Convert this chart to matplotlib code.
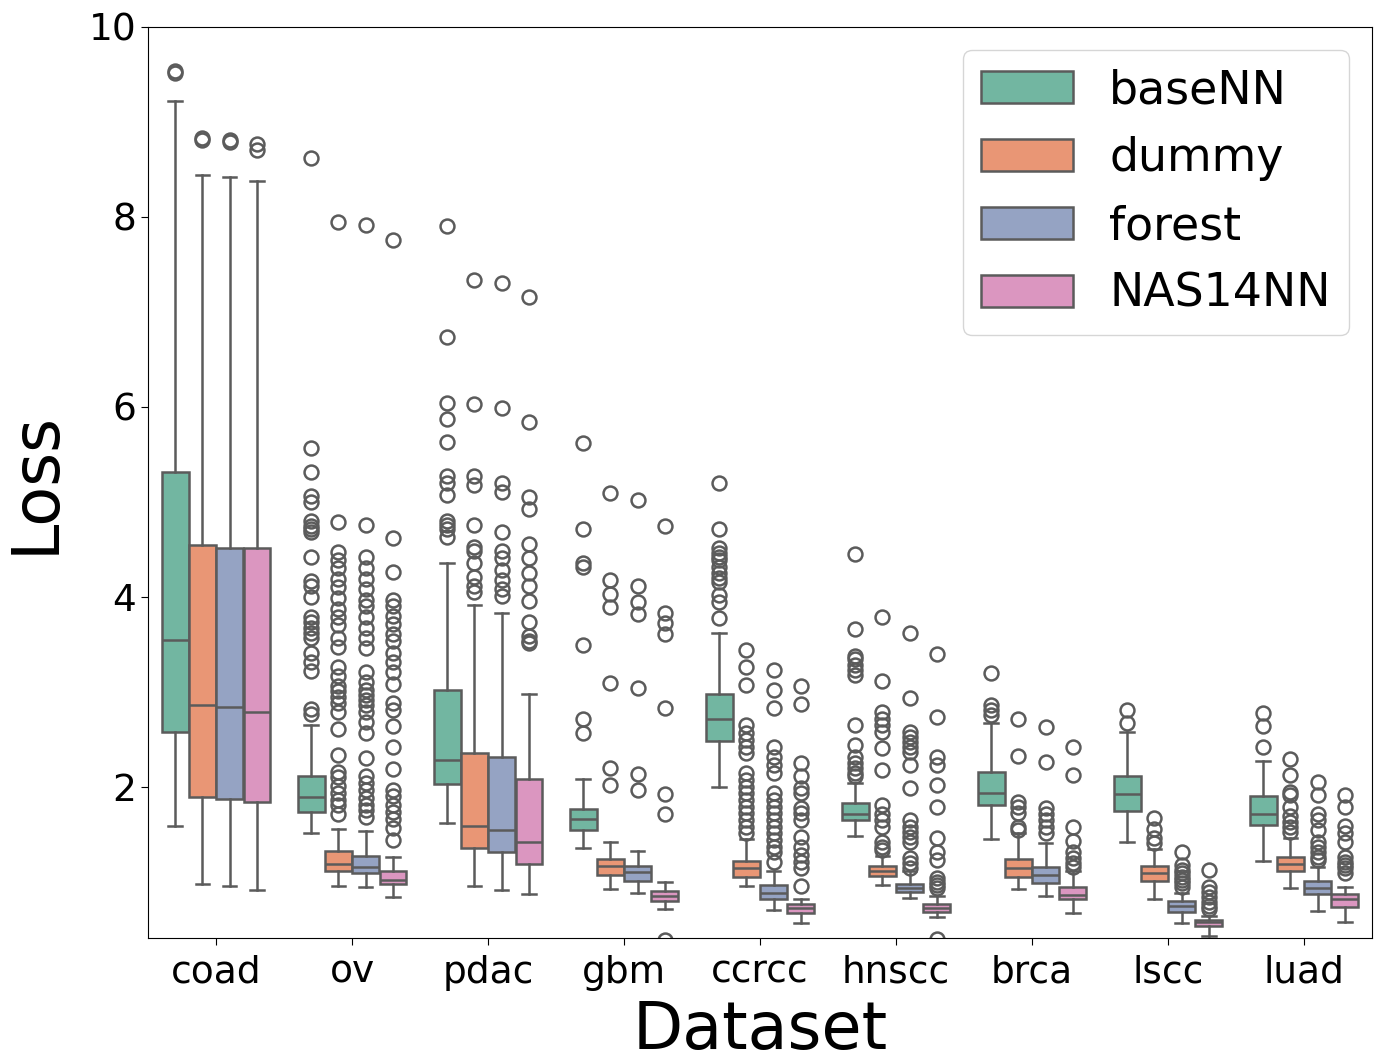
import numpy as np
import matplotlib
matplotlib.use("Agg")
import matplotlib.pyplot as plt
from matplotlib.patches import Patch
import seaborn as sns

# Datasets and models
datasets = ['coad', 'ov', 'pdac', 'gbm', 'ccrcc', 'hnscc', 'brca', 'lscc', 'luad']
models = ['baseNN', 'dummy', 'forest', 'NAS14NN']

# Box statistics per model (rows) and dataset (columns)
whislo = [[1.59, 1.51, 1.62, 1.36, 2.00, 1.48, 1.45, 1.42, 1.22],
          [0.98, 0.96, 0.96, 0.93, 0.96, 0.97, 0.93, 0.82, 0.94],
          [0.96, 0.95, 0.92, 0.88, 0.70, 0.83, 0.85, 0.57, 0.69],
          [0.92, 0.84, 0.87, 0.71, 0.57, 0.63, 0.67, 0.43, 0.58]]
q1 = [[2.58, 1.74, 2.03, 1.55, 2.48, 1.65, 1.81, 1.75, 1.60],
      [1.89, 1.12, 1.36, 1.07, 1.05, 1.06, 1.05, 1.01, 1.11],
      [1.87, 1.09, 1.31, 1.01, 0.82, 0.89, 0.99, 0.68, 0.87],
      [1.84, 0.98, 1.19, 0.80, 0.67, 0.68, 0.82, 0.54, 0.74]]
med = [[3.55, 1.89, 2.28, 1.66, 2.71, 1.72, 1.94, 1.93, 1.72],
       [2.86, 1.19, 1.59, 1.17, 1.15, 1.11, 1.15, 1.09, 1.19],
       [2.84, 1.16, 1.55, 1.10, 0.88, 0.94, 1.07, 0.75, 0.94],
       [2.79, 1.02, 1.42, 0.85, 0.73, 0.73, 0.86, 0.58, 0.82]]
q3 = [[5.31, 2.12, 3.02, 1.77, 2.98, 1.83, 2.16, 2.11, 1.90],
      [4.55, 1.33, 2.36, 1.24, 1.22, 1.17, 1.24, 1.17, 1.26],
      [4.52, 1.27, 2.31, 1.17, 0.97, 0.98, 1.16, 0.80, 1.01],
      [4.52, 1.11, 2.08, 0.90, 0.77, 0.77, 0.95, 0.60, 0.87]]
whishi = [[9.22, 2.65, 4.36, 2.08, 3.62, 2.04, 2.67, 2.58, 2.27],
          [8.44, 1.56, 3.91, 1.42, 1.45, 1.27, 1.51, 1.35, 1.46],
          [8.42, 1.54, 3.83, 1.33, 1.12, 1.11, 1.41, 0.88, 1.16],
          [8.38, 1.26, 2.98, 1.00, 0.82, 0.85, 1.11, 0.64, 0.95]]

# Outliers per model, per dataset
fliers = [
    # baseNN
    [[9.52, 9.54],
     [8.62, 5.57, 5.31, 5.06, 5.0, 4.8, 4.75, 4.72, 4.68, 4.42, 4.17, 4.12, 4.0,
      3.79, 3.74, 3.67, 3.62, 3.57, 3.41, 3.32, 3.22, 2.82, 2.77],
     [7.91, 6.74, 6.04, 5.87, 5.63, 5.27, 5.2, 5.07, 4.8, 4.76, 4.71, 4.63],
     [5.62, 4.72, 4.36, 4.31, 3.49, 2.71, 2.57],
     [5.2, 4.71, 4.52, 4.46, 4.42, 4.39, 4.32, 4.25, 4.2, 4.16, 4.02, 3.95, 3.78],
     [4.45, 3.66, 3.38, 3.35, 3.28, 3.23, 3.18, 2.65, 2.44, 2.32, 2.25, 2.2,
      2.15, 2.11],
     [3.2, 2.86, 2.81, 2.76],
     [2.81, 2.67],
     [2.78, 2.64, 2.42]],
    # dummy
    [[8.83, 8.81],
     [7.95, 4.79, 4.47, 4.39, 4.3, 4.19, 4.1, 3.99, 3.87, 3.79, 3.7, 3.57, 3.47,
      3.26, 3.17, 3.06, 3.01, 2.95, 2.88, 2.79, 2.61, 2.34, 2.16, 2.1, 2.01,
      1.94, 1.86, 1.81, 1.72],
     [7.34, 6.03, 5.27, 5.18, 4.76, 4.53, 4.48, 4.36, 4.21, 4.11, 4.05],
     [5.09, 4.18, 4.03, 3.89, 3.09, 2.2, 2.02],
     [3.44, 3.26, 3.07, 2.65, 2.57, 2.49, 2.42, 2.36, 2.15, 2.07, 2.0, 1.94,
      1.86, 1.79, 1.73, 1.65, 1.58, 1.52],
     [3.79, 3.11, 2.79, 2.72, 2.65, 2.58, 2.41, 2.18, 1.81, 1.72, 1.65, 1.58,
      1.42, 1.37, 1.34],
     [2.72, 2.33, 1.84, 1.79, 1.73, 1.58, 1.55],
     [1.67, 1.56, 1.46, 1.41],
     [2.29, 2.13, 1.95, 1.92, 1.79, 1.69, 1.63, 1.58, 1.53]],
    # forest
    [[8.81, 8.79],
     [7.92, 4.76, 4.42, 4.3, 4.19, 4.08, 3.97, 3.9, 3.79, 3.67, 3.57, 3.46,
      3.21, 3.1, 3.02, 2.97, 2.92, 2.86, 2.79, 2.68, 2.57, 2.3, 2.12, 2.04,
      1.97, 1.88, 1.81, 1.76, 1.68],
     [7.3, 5.99, 5.2, 5.1, 4.68, 4.48, 4.41, 4.28, 4.18, 4.08, 4.01],
     [5.02, 4.11, 3.95, 3.82, 3.04, 2.14, 1.97],
     [3.23, 3.02, 2.83, 2.42, 2.32, 2.23, 2.15, 1.94, 1.86, 1.79, 1.73, 1.65,
      1.58, 1.52, 1.44, 1.37, 1.31, 1.21],
     [3.62, 2.94, 2.58, 2.53, 2.47, 2.42, 2.37, 2.23, 1.99, 1.65, 1.58, 1.53,
      1.47, 1.42, 1.25, 1.2, 1.15],
     [2.63, 2.26, 1.78, 1.71, 1.65, 1.58, 1.52],
     [1.32, 1.18, 1.13, 1.09, 1.05, 1.02, 0.99, 0.95],
     [2.05, 1.92, 1.71, 1.65, 1.55, 1.42, 1.37, 1.32, 1.26, 1.23]],
    # NAS14NN
    [[8.77, 8.71],
     [7.76, 4.62, 4.26, 3.97, 3.9, 3.8, 3.72, 3.61, 3.54, 3.41, 3.32, 3.21,
      3.08, 2.88, 2.81, 2.64, 2.42, 2.19, 1.97, 1.9, 1.81, 1.74, 1.66, 1.57,
      1.44],
     [7.16, 5.84, 5.05, 4.93, 4.56, 4.41, 4.25, 4.11, 3.96, 3.74, 3.59, 3.54,
      3.51],
     [4.75, 3.83, 3.73, 3.61, 2.83, 1.93, 1.72, 0.39],
     [3.06, 2.87, 2.25, 2.11, 1.99, 1.94, 1.78, 1.73, 1.65, 1.47, 1.37, 1.28,
      1.21, 1.15, 0.96],
     [3.4, 2.74, 2.31, 2.23, 2.02, 1.79, 1.46, 1.32, 1.23, 1.04, 1.0, 0.97,
      0.94, 0.40],
     [2.42, 2.13, 1.58, 1.43, 1.32, 1.25, 1.2, 1.16],
     [1.13, 0.95, 0.89, 0.84, 0.79, 0.75, 0.71],
     [1.92, 1.79, 1.59, 1.52, 1.42, 1.26, 1.21, 1.18, 1.15, 1.09]],
]

colors = sns.color_palette('Set2', 4, desat=0.75)
gray = '#5b5b5b'
lw = 1.8
width = 0.2

fig, ax = plt.subplots(figsize=(13.85, 10.62), dpi=100)
fig.subplots_adjust(left=0.1069, right=0.9906, top=0.9746, bottom=0.1168)

pos = np.arange(len(datasets))
for m in range(len(models)):
    stats = []
    for d in range(len(datasets)):
        stats.append(dict(whislo=whislo[m][d], q1=q1[m][d], med=med[m][d],
                          q3=q3[m][d], whishi=whishi[m][d], fliers=fliers[m][d]))
    offs = pos + (m - 1.5) * width
    ax.bxp(stats, positions=offs, widths=width * 0.98, patch_artist=True,
           showfliers=True, capwidths=width * 0.5,
           boxprops=dict(facecolor=colors[m], edgecolor=gray, linewidth=lw),
           whiskerprops=dict(color=gray, linewidth=lw),
           capprops=dict(color=gray, linewidth=lw),
           medianprops=dict(color=gray, linewidth=lw),
           flierprops=dict(marker='o', markerfacecolor='none',
                           markeredgecolor=gray, markersize=10,
                           markeredgewidth=1.8))

ax.set_xlim(-0.5, len(datasets) - 0.5)
ax.set_ylim(0.41, 10)
ax.set_xticks(pos)
ax.set_xticklabels(datasets)
ax.set_yticks([2, 4, 6, 8, 10])
ax.tick_params(axis='both', labelsize=27, length=5)
ax.tick_params(axis='x', pad=7)
ax.set_xlabel('Dataset', fontsize=47, labelpad=6)
ax.set_ylabel('Loss', fontsize=47, labelpad=15)

handles = [Patch(facecolor=colors[m], edgecolor=gray, linewidth=lw)
           for m in range(len(models))]
ax.legend(handles, models, loc='upper right', fontsize=33)

plt.savefig('out.png', dpi=100)
